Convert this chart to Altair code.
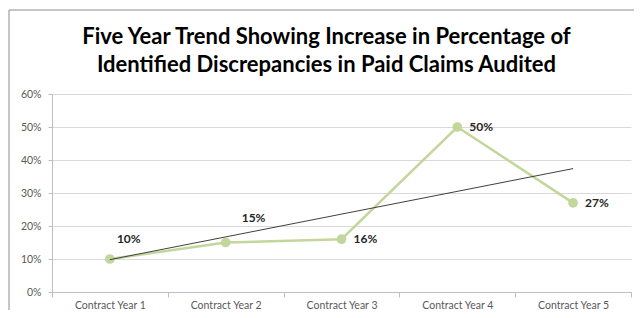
import altair as alt
import pandas as pd

years = ["Contract Year 1", "Contract Year 2", "Contract Year 3", "Contract Year 4", "Contract Year 5"]
index = [1, 2, 3, 4, 5]
values = [0.10, 0.15, 0.16, 0.50, 0.27]
labels = ["10%", "15%", "16%", "50%", "27%"]
title_lines = ["Five Year Trend Showing Increase in Percentage of",
               "Identified Discrepancies in Paid Claims Audited"]

df = pd.DataFrame({"year": years, "idx": index, "value": values, "label": labels})

FONT = "Lato"
GREEN = "#c3d69b"
GRAY_TXT = "#595959"

xband = alt.X("year:O", sort=years,
              scale=alt.Scale(type="band", paddingInner=0, paddingOuter=0),
              axis=alt.Axis(title=None, labelAngle=0, tickBand="extent", ticks=True,
                            tickSize=5, tickColor="#bfbfbf", domainColor="#bfbfbf",
                            labelColor=GRAY_TXT, labelFontSize=10.5, labelFont=FONT,
                            labelPadding=3, grid=False, orient="bottom"))
yaxis = alt.Axis(title=None, format=".0%", values=[0, 0.1, 0.2, 0.3, 0.4, 0.5, 0.6],
                 tickSize=4, tickColor="#bfbfbf", domainColor="#bfbfbf",
                 gridColor="#d9d9d9", labelColor=GRAY_TXT, labelFontSize=10.5,
                 labelFont=FONT, labelPadding=7)
yenc = alt.Y("value:Q", scale=alt.Scale(domain=[0, 0.6]), axis=yaxis)

base = alt.Chart(df).encode(x=xband, y=yenc)
line = base.mark_line(color=GREEN, strokeWidth=2.5)
pts = base.mark_circle(color=GREEN, size=95, opacity=1)

txt_style = dict(font=FONT, fontSize=12, fontWeight="bold", color="#262626",
                 align="left", baseline="middle")
lab_a = base.transform_filter("datum.idx >= 3").mark_text(dx=12, dy=0, **txt_style).encode(text="label:N")
lab_b = base.transform_filter("datum.idx == 2").mark_text(dx=16, dy=-25, **txt_style).encode(text="label:N")
lab_c = base.transform_filter("datum.idx == 1").mark_text(dx=7, dy=-20, **txt_style).encode(text="label:N")

inner = alt.layer(line, pts, lab_a, lab_b, lab_c)

trend = alt.Chart(df).transform_regression("idx", "value").mark_line(
    color="#404040", strokeWidth=1
).encode(
    x=alt.X("idx:Q", scale=alt.Scale(domain=[0.5, 5.5]), axis=None),
    y=alt.Y("value:Q", scale=alt.Scale(domain=[0, 0.6]), axis=yaxis),
)

border = alt.Chart(pd.DataFrame({"k": [0]})).mark_rect(
    fill=None, stroke="#8c8c8c", strokeWidth=1, clip=False
).encode(x=alt.value(-43), x2=alt.value(800), y=alt.value(-84), y2=alt.value(600))

chart = alt.layer(inner, trend, border).resolve_scale(x="independent").properties(
    width=579, height=198,
    padding={"left": 44, "top": 86, "right": 3, "bottom": 18},
    autosize=alt.AutoSizeParams(type="none"),
    title=alt.TitleParams(text=title_lines, font=FONT, fontSize=22, fontWeight="bold",
                          color="#000000", anchor="middle", baseline="alphabetic",
                          lineHeight=28, offset=-84, dx=-15),
).configure_view(stroke=None)

chart.save("out.html", embed_options={"renderer": "svg", "actions": False})
